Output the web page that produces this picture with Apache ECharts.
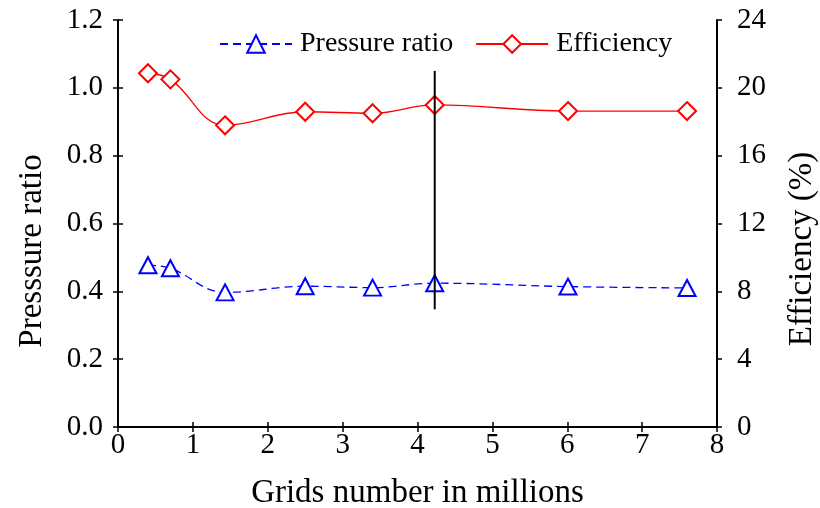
<!DOCTYPE html>
<html>
<head>
<meta charset="utf-8">
<script src="https://cdn.jsdelivr.net/npm/echarts@6/dist/echarts.min.js"></script>
<style>
  html, body { margin: 0; padding: 0; background: #fff; }
  #chart { width: 820px; height: 508px; }
</style>
</head>
<body>
<div id="chart"></div>
<script>
// Grid sizes (millions of cells) used in the independence study
const gridsMillions = [0.40, 0.70, 1.43, 2.50, 3.40, 4.23, 6.01, 7.60];
// Pressure ratio at each grid size (left axis)
const pressureRatio = [0.477, 0.468, 0.397, 0.415, 0.411, 0.424, 0.414, 0.410];
// Efficiency in percent at each grid size (right axis)
const efficiency = [20.86, 20.50, 17.79, 18.59, 18.50, 18.99, 18.63, 18.63];
// Vertical marker at the selected grid (x, left-axis range)
const selectedGridX = 4.23;
const selectedGridRange = [0.347, 1.050];

const serif = 'Liberation Serif, Times New Roman, serif';
const black = '#000';

const chart = echarts.init(document.getElementById('chart'), null, { renderer: 'canvas' });

const tickOut = { show: true, inside: false, length: 5, lineStyle: { color: black, width: 1.5 } };
const tickIn = { show: true, inside: true, length: 5, lineStyle: { color: black, width: 1.5 } };

chart.setOption({
  animation: false,
  backgroundColor: '#fff',
  grid: { left: 118, right: 103, top: 20, bottom: 81, containLabel: false, outerBoundsMode: 'none' },
  legend: {
    top: 25,
    left: 214,
    itemWidth: 72,
    itemHeight: 22,
    itemGap: 22,
    textStyle: { fontFamily: serif, fontSize: 28, color: black, padding: [0, 0, 0, 3] },
    data: ['Pressure ratio', 'Efficiency']
  },
  graphic: [
    {
      type: 'text', x: 32, y: 251, rotation: Math.PI / 2,
      style: { text: 'Presssure ratio', font: '33px ' + serif, fill: black, align: 'center', verticalAlign: 'middle' }
    },
    {
      type: 'text', x: 802, y: 249, rotation: Math.PI / 2,
      style: { text: 'Efficiency (%)', font: '33px ' + serif, fill: black, align: 'center', verticalAlign: 'middle' }
    }
  ],
  xAxis: [
    {
      type: 'value', min: 0, max: 8, interval: 1,
      name: 'Grids number in millions', nameLocation: 'middle', nameGap: 50,
      nameTextStyle: { fontFamily: serif, fontSize: 33, color: black },
      axisLine: { show: true, onZero: false, lineStyle: { color: black, width: 2 } },
      axisTick: tickOut,
      axisLabel: { fontFamily: serif, fontSize: 29, color: black, margin: 4 },
      splitLine: { show: false }
    },
    {
      type: 'value', min: 0, max: 8, interval: 1, position: 'bottom',
      axisLine: { show: false }, axisTick: tickIn,
      axisLabel: { show: false }, splitLine: { show: false }
    }
  ],
  yAxis: [
    {
      type: 'value', min: 0, max: 1.2, interval: 0.2, position: 'left',
      axisLine: { show: true, onZero: false, lineStyle: { color: black, width: 2 } },
      axisTick: tickOut,
      axisLabel: { fontFamily: serif, fontSize: 29, color: black, margin: 15, formatter: v => v.toFixed(1) },
      splitLine: { show: false }
    },
    {
      type: 'value', min: 0, max: 24, interval: 4, position: 'right',
      axisLine: { show: true, onZero: false, lineStyle: { color: black, width: 2 } },
      axisTick: tickOut,
      axisLabel: { fontFamily: serif, fontSize: 29, color: black, margin: 20 },
      splitLine: { show: false }
    },
    {
      type: 'value', min: 0, max: 1.2, interval: 0.2, position: 'left',
      axisLine: { show: false }, axisTick: tickIn,
      axisLabel: { show: false }, splitLine: { show: false }
    },
    {
      type: 'value', min: 0, max: 24, interval: 4, position: 'right',
      axisLine: { show: false }, axisTick: tickIn,
      axisLabel: { show: false }, splitLine: { show: false }
    }
  ],
  series: [
    {
      name: 'Pressure ratio', type: 'line', xAxisIndex: 0, yAxisIndex: 0,
      data: gridsMillions.map((x, i) => [x, pressureRatio[i]]),
      smooth: 0.4,
      symbol: 'triangle', symbolSize: [17, 16],
      itemStyle: { color: '#fff', borderColor: '#0000ff', borderWidth: 2 },
      lineStyle: { color: '#0000ff', width: 1.3, type: [8, 5] },
      z: 3
    },
    {
      name: 'Efficiency', type: 'line', xAxisIndex: 0, yAxisIndex: 1,
      data: gridsMillions.map((x, i) => [x, efficiency[i]]),
      smooth: 0.4,
      symbol: 'diamond', symbolSize: [18, 18],
      itemStyle: { color: '#fff', borderColor: '#ff0000', borderWidth: 2 },
      lineStyle: { color: '#ff0000', width: 1.3 },
      z: 3
    },
    {
      name: 'selected', type: 'line', xAxisIndex: 0, yAxisIndex: 0,
      data: selectedGridRange.map(v => [selectedGridX, v]),
      symbol: 'none', silent: true,
      lineStyle: { color: black, width: 2 },
      z: 5
    }
  ]
});
</script>
</body>
</html>
